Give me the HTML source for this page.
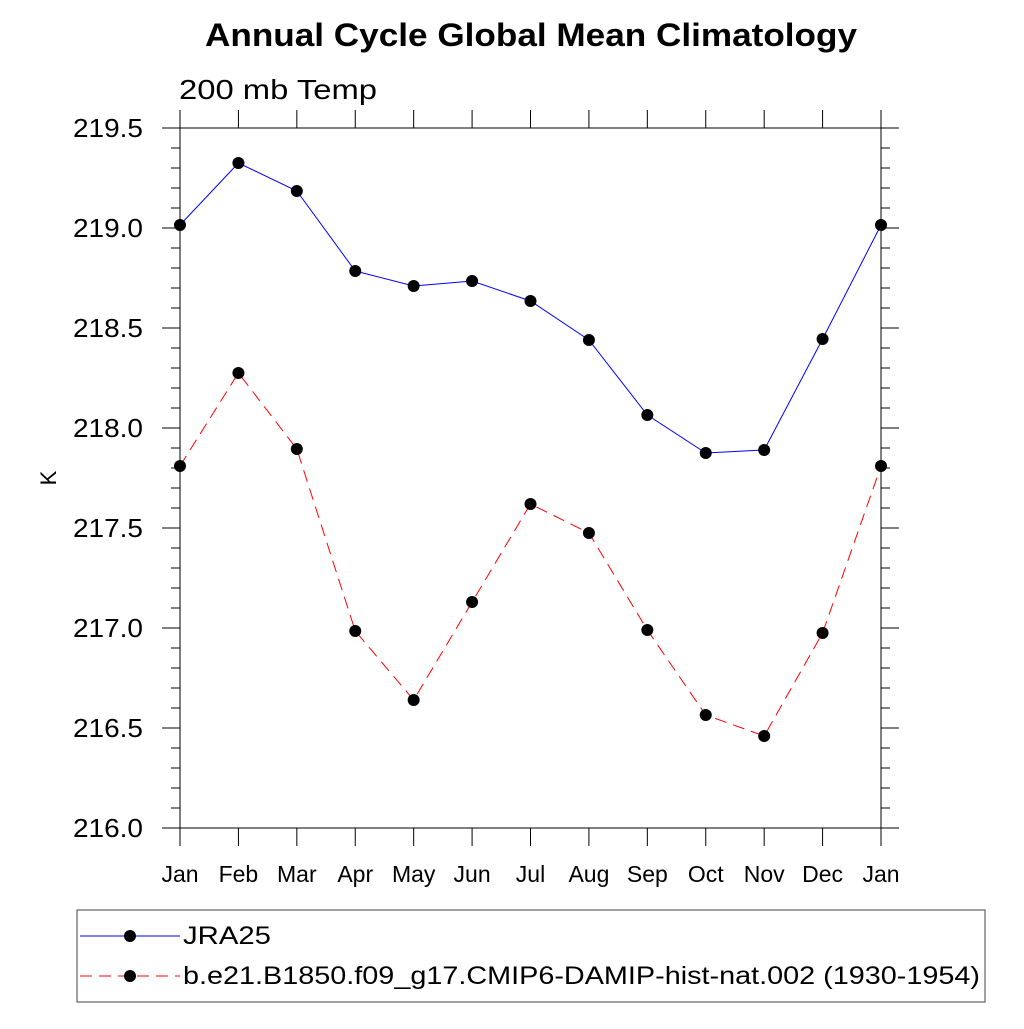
<!DOCTYPE html>
<html><head><meta charset="utf-8"><style>
body{margin:0;background:#fff;width:1024px;height:1024px;overflow:hidden}
svg text{font-family:"Liberation Sans",sans-serif}
</style></head><body>
<svg id="chart" width="1024" height="1024">
<text x="205" y="46" font-size="32" font-weight="bold" textLength="652" lengthAdjust="spacingAndGlyphs">Annual Cycle Global Mean Climatology</text>
<text x="179" y="99" font-size="28" textLength="198" lengthAdjust="spacingAndGlyphs">200 mb Temp</text>
<text transform="translate(56,478) rotate(-90)" text-anchor="middle" font-size="22">K</text>
<g id="axes"></g>
<g id="series"></g>
<rect x="77" y="910" width="908" height="92" fill="none" stroke="#444" stroke-width="1"/>
<g>
<line x1="80" y1="936" x2="180" y2="936" stroke="#0000ff" stroke-width="1"/>
<circle cx="130" cy="936" r="6" fill="#000"/>
<text x="183" y="944" font-size="25" textLength="88" lengthAdjust="spacingAndGlyphs">JRA25</text></g>
<g>
<line x1="80" y1="976" x2="180" y2="976" stroke="#ff0000" stroke-width="1" stroke-dasharray="12,7"/>
<circle cx="130" cy="976" r="6" fill="#000"/>
<text x="183" y="984" font-size="25" textLength="797" lengthAdjust="spacingAndGlyphs">b.e21.B1850.f09_g17.CMIP6-DAMIP-hist-nat.002 (1930-1954)</text></g>
</svg>
<script>
const months=["Jan","Feb","Mar","Apr","May","Jun","Jul","Aug","Sep","Oct","Nov","Dec","Jan"];
const jra25=[219.015,219.325,219.185,218.785,218.71,218.735,218.635,218.44,218.065,217.875,217.89,218.445,219.015];
const model=[217.81,218.275,217.895,216.985,216.64,217.13,217.62,217.475,216.99,216.565,216.46,216.975,217.81];
const yTicks=["216.0","216.5","217.0","217.5","218.0","218.5","219.0","219.5"];
const X0=180,X1=881,Y0=828,Y1=128,YMIN=216,YMAX=219.5;
const xs=i=>X0+(X1-X0)*i/(months.length-1);
const ys=v=>Y0-(v-YMIN)/(YMAX-YMIN)*(Y0-Y1);
const NS="http://www.w3.org/2000/svg";
function mk(t,a,p){const e=document.createElementNS(NS,t);for(const k in a)e.setAttribute(k,a[k]);p.appendChild(e);return e;}
const ax=document.getElementById('axes'),sr=document.getElementById('series');
const L={stroke:"#000","stroke-width":1};
mk('line',{x1:162,y1:Y1,x2:898,y2:Y1,...L},ax);
mk('line',{x1:162,y1:Y0,x2:898,y2:Y0,...L},ax);
mk('line',{x1:X0,y1:110,x2:X0,y2:846,...L},ax);
mk('line',{x1:X1,y1:110,x2:X1,y2:846,...L},ax);
months.forEach((m,i)=>{const x=xs(i);
mk('line',{x1:x,y1:110,x2:x,y2:Y1,...L},ax);
mk('line',{x1:x,y1:Y0,x2:x,y2:846,...L},ax);
const t=mk('text',{x:x,y:882,"text-anchor":"middle","font-size":23},ax);t.textContent=m;

});
for(let v=YMIN;v<=YMAX+1e-6;v+=0.1){const y=ys(v);const maj=Math.abs(v*2-Math.round(v*2))<1e-6;const l=maj?18:9;
mk('line',{x1:X0-l,y1:y,x2:X0,y2:y,...L},ax);mk('line',{x1:X1,y1:y,x2:X1+l,y2:y,...L},ax);}
yTicks.forEach(s=>{const t=mk('text',{x:143,y:ys(parseFloat(s))+9,"text-anchor":"end","font-size":26,textLength:70,lengthAdjust:"spacingAndGlyphs"},ax);t.textContent=s;

});
function draw(vals,color,dash,name){
const g=mk('g',{},sr);


const pl=mk('polyline',{points:vals.map((v,i)=>xs(i)+","+ys(v)).join(" "),fill:"none",stroke:color,"stroke-width":1},g);
if(dash)pl.setAttribute('stroke-dasharray',dash);
vals.forEach((v,i)=>{const c=mk('circle',{cx:xs(i),cy:ys(v),r:6,fill:"#000"},g);

});}
draw(jra25,"#0000ff",null,"jra25-series");
draw(model,"#ff0000","12,7","model-series");
</script>
</body></html>
